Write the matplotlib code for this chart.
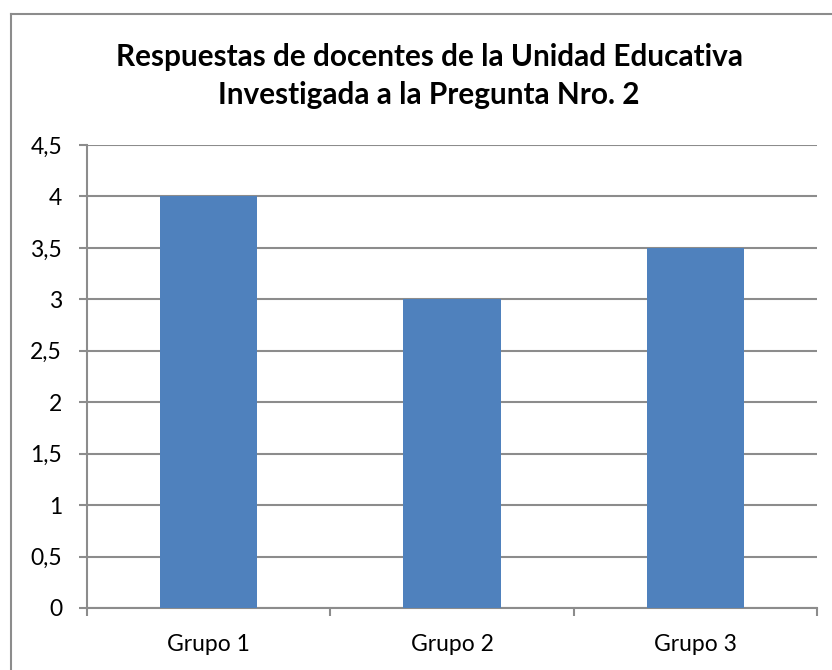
import matplotlib
matplotlib.use("Agg")
import matplotlib.pyplot as plt
from matplotlib.lines import Line2D
from matplotlib.ticker import FixedLocator, NullFormatter

categories = ["Grupo 1", "Grupo 2", "Grupo 3"]
values = [4, 3, 3.5]
yticks = [0, 0.5, 1, 1.5, 2, 2.5, 3, 3.5, 4, 4.5]
ytick_labels = ["0", "0,5", "1", "1,5", "2", "2,5", "3", "3,5", "4", "4,5"]
title = "Respuestas de docentes de la Unidad Educativa\nInvestigada a la Pregunta Nro. 2"

W, H = 832, 670
fig = plt.figure(figsize=(W / 100, H / 100), dpi=100)
plt.rcParams['font.family'] = ['Lato', 'DejaVu Sans']

# outer chart border (left and top visible)
gray = "#8c8c8c"
fig.add_artist(Line2D([11 / W, 11 / W], [0, 1 - 14 / H], transform=fig.transFigure, color=gray, lw=1.5))
fig.add_artist(Line2D([11 / W, 1], [1 - 14 / H, 1 - 14 / H], transform=fig.transFigure, color=gray, lw=1.5))

ax = fig.add_axes([87 / W, 1 - 608 / H, (817 - 87) / W, (608 - 145) / H])
x = list(range(len(categories)))
ax.bar(x, values, width=0.4, color="#4f81bd", zorder=3)
ax.set_xlim(-0.5, len(categories) - 0.5)
ax.set_ylim(0, 4.5)
ax.set_yticks(yticks)
ax.set_yticklabels(ytick_labels, fontsize=16.5)
ax.set_xticks(x)
ax.set_xticklabels(categories, fontsize=16.5)
ax.xaxis.set_minor_locator(FixedLocator([-0.5, 0.5, 1.5, 2.5]))
ax.xaxis.set_minor_formatter(NullFormatter())
ax.tick_params(axis='x', which='major', length=0, pad=19)
ax.tick_params(axis='x', which='minor', length=6, color=gray, width=1.5)
ax.tick_params(axis='y', length=6, color=gray, width=1.5, pad=12)
ax.grid(axis='y', color=gray, lw=1.5, zorder=1)
for s in ['top', 'right']:
    ax.spines[s].set_visible(False)
for s in ['left', 'bottom']:
    ax.spines[s].set_color(gray)
    ax.spines[s].set_linewidth(1.5)

fig.text(429 / W, 1 - 76 / H, title, ha='center', va='center', fontsize=21.4,
         fontweight='bold', linespacing=1.4)

fig.savefig("out.png", dpi=100)
